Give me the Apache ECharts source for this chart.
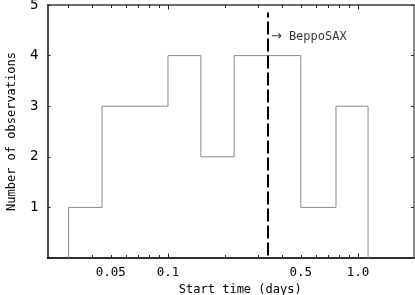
<!DOCTYPE html>
<html><head><meta charset="utf-8">
<script src="https://cdn.jsdelivr.net/npm/echarts@6/dist/echarts.min.js"></script>
<style>html,body{margin:0;padding:0;background:#fff}#c{width:415px;height:295px}</style>
</head><body><div id="c"></div>
<script>
// ---- data ----
const binEdges = [0.03, 0.045, 0.067, 0.1, 0.149, 0.223, 0.334, 0.5, 0.766, 1.13];
const counts = [1, 3, 3, 4, 2, 4, 4, 1, 3];
const minorTickValues = [0.03,0.04,0.05,0.06,0.07,0.08,0.09,0.2,0.3,0.4,0.5,0.6,0.7,0.8,0.9];
const majorTickValues = [0.1, 1.0];
const xLabelValues = [0.05, 0.1, 0.5, 1.0];
const xLabelTexts = ['0.05', '0.1', '0.5', '1.0'];
const yTickValues = [0, 1, 2, 3, 4, 5];
const beppoSAXTime = 0.336;
const beppoLineRange = [0.05, 4.85];
const beppoLabelY = 4.37;
const beppoLabel = 'BeppoSAX';
const xTitle = 'Start time (days)';
const yTitle = 'Number of observations';

// ---- build step outline ----
const outline = [[binEdges[0], 0]];
for (let i = 0; i < counts.length; i++) {
  outline.push([binEdges[i], counts[i]]);
  outline.push([binEdges[i + 1], counts[i]]);
}
outline.push([binEdges[binEdges.length - 1], 0]);

const FONT = 'DejaVu Sans Mono';
const X_MIN = 0.02323, X_MAX = 1.971;

function xAxisDef(pos, ticks, len, labels, lineColor) {
  return {
    type: 'log', logBase: 10, min: X_MIN, max: X_MAX, position: pos,
    axisLine: { show: true, onZero: false, lineStyle: { color: lineColor, width: 1.5 } },
    axisTick: { show: true, inside: true, length: len, customValues: ticks, lineStyle: { color: '#222', width: 1 } },
    axisLabel: labels ? {
      show: true, customValues: xLabelValues, margin: 8, fontFamily: FONT, fontSize: 12.5, color: '#000',
      formatter: v => { const i = xLabelValues.findIndex(x => Math.abs(x - v) < 1e-9); return i >= 0 ? xLabelTexts[i] : ''; }
    } : { show: false },
    splitLine: { show: false }, minorTick: { show: false }
  };
}

const chart = echarts.init(document.getElementById('c'), null, { renderer: 'canvas' });
chart.setOption({
  animation: false,
  backgroundColor: '#fff',
  grid: { left: 47.5, right: 1, top: 5, bottom: 37, outerBoundsMode: 'none', containLabel: false },
  xAxis: [
    Object.assign(xAxisDef('bottom', minorTickValues, 3, true, '#222'), {
      name: xTitle, nameLocation: 'middle', nameGap: 23,
      nameTextStyle: { fontFamily: FONT, fontSize: 12, color: '#000', padding: [0, 0, 0, 19] }
    }),
    xAxisDef('bottom', majorTickValues, 4.5, false, '#222'),
    xAxisDef('top', minorTickValues, 3, false, '#666'),
    xAxisDef('top', majorTickValues, 4.5, false, '#666')
  ],
  yAxis: [
    {
      type: 'value', min: 0, max: 5, interval: 1, position: 'left',
      name: yTitle, nameLocation: 'middle', nameGap: 30,
      nameTextStyle: { fontFamily: FONT, fontSize: 12, color: '#000' },
      axisLine: { show: true, lineStyle: { color: '#111', width: 1.5 } },
      axisTick: { show: true, inside: true, length: 3, lineStyle: { color: '#222' } },
      axisLabel: { margin: 9, fontFamily: FONT, fontSize: 14, color: '#000',
        formatter: v => yTickValues.includes(v) && v > 0 ? String(v) : '' },
      splitLine: { show: false }
    },
    {
      type: 'value', min: 0, max: 5, interval: 1, position: 'right',
      axisLine: { show: true, lineStyle: { color: '#666', width: 1.5 } },
      axisTick: { show: true, inside: true, length: 3, lineStyle: { color: '#333' } },
      axisLabel: { show: false }, splitLine: { show: false }
    }
  ],
  series: [
    {
      type: 'line', xAxisIndex: 0, yAxisIndex: 0, data: outline,
      showSymbol: false, symbol: 'none',
      lineStyle: { color: '#8a8a8a', width: 1 }, z: 3
    },
    {
      type: 'line', xAxisIndex: 0, yAxisIndex: 0,
      data: [[beppoSAXTime, beppoLineRange[0]], [beppoSAXTime, beppoLineRange[1]]],
      showSymbol: false, symbol: 'none',
      lineStyle: { color: '#000', width: 2, type: [13, 4] }, z: 4
    },
    {
      type: 'scatter', xAxisIndex: 0, yAxisIndex: 0,
      data: [[beppoSAXTime, beppoLabelY]], symbolSize: 0,
      label: { show: true, position: 'right', distance: 3,
        formatter: '{a|\u2192}{b|' + beppoLabel + '}',
        rich: {
          a: { fontFamily: 'DejaVu Sans', fontSize: 13, color: '#000' },
          b: { fontFamily: FONT, fontSize: 12, color: '#000', padding: [0, 0, 0, 7] }
        } },
      z: 5
    }
  ]
});
</script></body></html>
